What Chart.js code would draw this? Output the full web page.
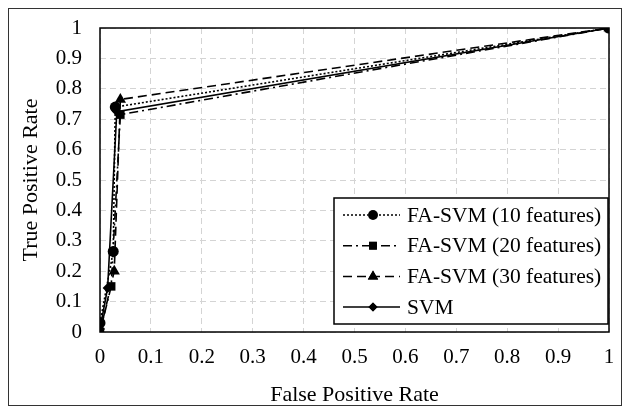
<!DOCTYPE html>
<html>
<head>
<meta charset="utf-8">
<script src="https://cdn.jsdelivr.net/npm/chart.js@4/dist/chart.umd.min.js"></script>
<style>
  body { margin: 0; background: #fff; }
  canvas { display: block; }
</style>
</head>
<body>
<canvas id="roc" width="630" height="414"></canvas>
<script>
// ROC curves
const seriesNames = ['FA-SVM (10 features)', 'FA-SVM (20 features)', 'FA-SVM (30 features)', 'SVM'];
const fpr10 = [0, 0.026, 0.03, 1];
const tpr10 = [0.03, 0.265, 0.74, 1];
const fpr20 = [0, 0.022, 0.04, 1];
const tpr20 = [0, 0.15, 0.715, 1];
const fpr30 = [0, 0.028, 0.04, 1];
const tpr30 = [0, 0.2, 0.765, 1];
const fprSvm = [0, 0.015, 0.033, 1];
const tprSvm = [0.01, 0.145, 0.725, 1];
const axisTicks = [0, 0.1, 0.2, 0.3, 0.4, 0.5, 0.6, 0.7, 0.8, 0.9, 1];

const FONT = '"Liberation Serif", "DejaVu Serif", serif';

function pts(xs, ys) {
    return xs.map((x, i) => ({ x: x, y: ys[i] }));
}

const styles = [
    { dash: [2, 2], point: 'circle', radius: 5.5, order: 2 },
    { dash: [9, 4, 2, 4], point: 'rect', radius: 6, order: 0 },
    { dash: [9, 5], point: 'triangle', radius: 6.5, order: 1 },
    { dash: [], point: 'rectRot', radius: 5, order: 3 }
];

const xsList = [fpr10, fpr20, fpr30, fprSvm];
const ysList = [tpr10, tpr20, tpr30, tprSvm];

const datasets = seriesNames.map((name, i) => ({
    label: name,
    data: pts(xsList[i], ysList[i]),
    order: styles[i].order,
    showLine: true,
    borderColor: '#000',
    backgroundColor: '#000',
    borderWidth: 1.6,
    borderDash: styles[i].dash,
    pointStyle: styles[i].point,
    pointRadius: styles[i].radius,
    pointBorderWidth: 0
}));

// frame around the plot area plus the outer border
const framePlugin = {
    id: 'frame',
    afterDatasetsDraw(chart) {
        const { ctx, chartArea: a } = chart;
        ctx.save();
        ctx.strokeStyle = '#000';
        ctx.lineWidth = 1.5;
        ctx.strokeRect(a.left, a.top, a.right - a.left, a.bottom - a.top);
        ctx.strokeStyle = '#333';
        ctx.lineWidth = 1;
        ctx.strokeRect(8.5, 8.5, 613, 397);
        ctx.restore();
    }
};

// boxed legend with line samples in the lower right
const legendPlugin = {
    id: 'boxLegend',
    afterDraw(chart) {
        const { ctx } = chart;
        const bx = 334, by = 198, bw = 274, bh = 126;
        ctx.save();
        ctx.fillStyle = '#fff';
        ctx.fillRect(bx, by, bw, bh);
        ctx.strokeStyle = '#000';
        ctx.lineWidth = 1.5;
        ctx.strokeRect(bx, by, bw, bh);
        ctx.font = '21.5px ' + FONT;
        ctx.textBaseline = 'middle';
        chart.data.datasets.forEach((ds, i) => {
            const y = by + 17 + i * 30.7;
            ctx.strokeStyle = '#000';
            ctx.lineWidth = 1.5;
            ctx.setLineDash(ds.borderDash);
            ctx.beginPath();
            ctx.moveTo(bx + 9, y);
            ctx.lineTo(bx + 66, y);
            ctx.stroke();
            ctx.setLineDash([]);
            Chart.helpers.drawPoint(ctx, { pointStyle: ds.pointStyle, radius: ds.pointRadius - 0.5, rotation: 0, borderWidth: 0 }, bx + 39, y);
            ctx.fillStyle = '#000';
            ctx.fill();
            ctx.fillText(ds.label, bx + 73, y + 1);
        });
        ctx.restore();
    }
};

new Chart(document.getElementById('roc'), {
    type: 'scatter',
    data: { datasets: datasets },
    options: {
        responsive: false,
        animation: false,
        layout: { padding: { top: 28, right: 21, left: 0, bottom: 0 } },
        plugins: { legend: { display: false }, tooltip: { enabled: false } },
        scales: {
            x: {
                type: 'linear',
                min: 0, max: 1,
                afterBuildTicks: s => { s.ticks = axisTicks.map(v => ({ value: v })); },
                afterFit: s => { s.height = 82; s.paddingLeft = 0; s.paddingRight = 0; },
                ticks: { color: '#000', font: { family: FONT, size: 21 }, padding: 13, maxRotation: 0,
                         callback: v => String(Math.round(v * 10) / 10) },
                grid: { color: '#d4d4d4', drawTicks: false },
                border: { display: false, dash: [6, 4] },
                title: { display: true, text: 'False Positive Rate', color: '#000',
                         font: { family: FONT, size: 22 }, padding: { top: 4, bottom: 6 } }
            },
            y: {
                type: 'linear',
                min: 0, max: 1,
                afterBuildTicks: s => { s.ticks = axisTicks.map(v => ({ value: v })); },
                afterFit: s => { s.width = 100; s.paddingTop = 0; s.paddingBottom = 0; },
                ticks: { color: '#000', font: { family: FONT, size: 21 }, padding: 18,
                         callback: v => String(Math.round(v * 10) / 10) },
                grid: { color: '#d4d4d4', drawTicks: false },
                border: { display: false, dash: [6, 4] },
                title: { display: true, text: 'True Positive Rate', color: '#000',
                         font: { family: FONT, size: 22 }, padding: { top: 18, bottom: 4 } }
            }
        }
    },
    plugins: [framePlugin, legendPlugin]
});
</script>
</body>
</html>
